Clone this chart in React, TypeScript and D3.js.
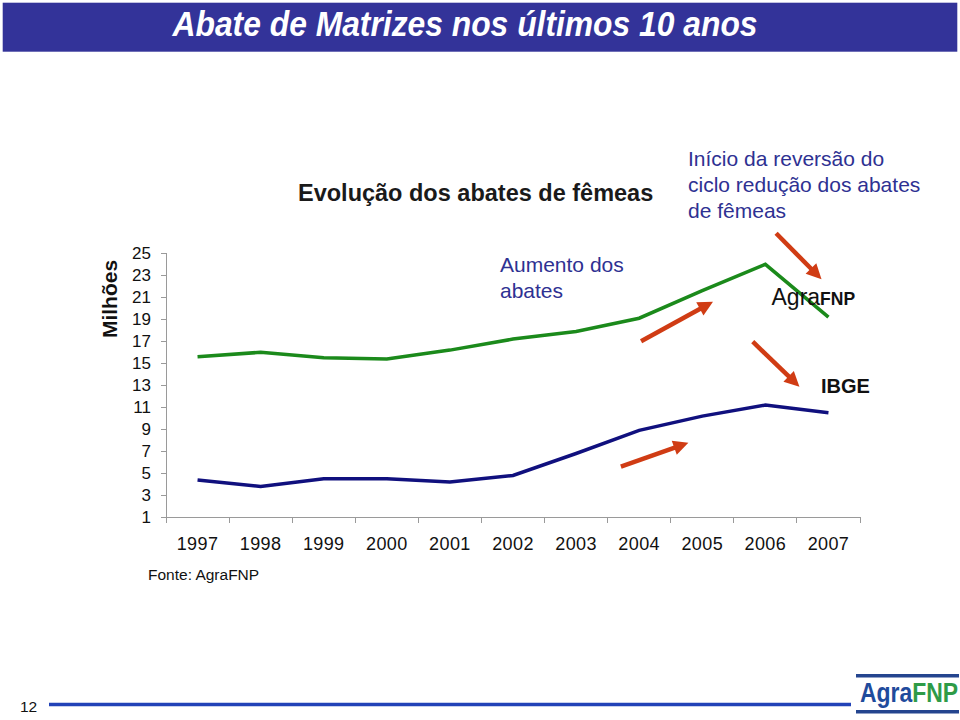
import React from "react";
import * as d3 from "d3";

const years = ["1997", "1998", "1999", "2000", "2001", "2002", "2003", "2004", "2005", "2006", "2007"];
const agraFNP = [15.6, 16.0, 15.5, 15.4, 16.2, 17.2, 17.9, 19.1, 21.6, 24.0, 19.2];
const ibge = [4.4, 3.8, 4.5, 4.5, 4.2, 4.8, 6.8, 8.9, 10.2, 11.2, 10.5];
const yTicks = [1, 3, 5, 7, 9, 11, 13, 15, 17, 19, 21, 23, 25];
// arrows in data space: [fromIndex, fromValue, toIndex, toValue]
const arrows = [
  [9.17, 26.82, 9.89, 22.64],
  [7.03, 17.0, 8.17, 20.6],
  [6.71, 5.6, 7.78, 7.78],
  [8.8, 16.96, 9.54, 12.87],
];

const W = 960;
const H = 720;
const X0 = 166;
const X1 = 860;
const Y0 = 517.3;
const Y1 = 253.3;

const GREEN = "#1B8A1B";
const NAVY = "#10107E";
const ARROW = "#D03C14";
const NOTE = "#2E3192";
const AXIS = "#9a9a9a";
const NARROW = "'Liberation Sans Narrow', 'Arial Narrow', 'Liberation Sans', sans-serif";

export default function App() {
  const xBand = d3.scaleBand<string>().domain(years).range([X0, X1]).padding(0);
  const xIdx = d3.scaleLinear().domain([-0.5, years.length - 0.5]).range([X0, X1]);
  const y = d3.scaleLinear().domain([1, 25]).range([Y0, Y1]);
  const line = d3
    .line<number>()
    .x((_, i) => xIdx(i))
    .y((d) => y(d));

  const bounds = [...years.map((yr) => xBand(yr) as number), X1];

  return (
    <svg
      width={W}
      height={H}
      viewBox={`0 0 ${W} ${H}`}
      style={{ position: "absolute", left: 0, top: 0, display: "block", background: "#fff" }}
      fontFamily="'Liberation Sans', Arial, sans-serif"
    >
      {/* title bar */}
      <rect x={2.7} y={2.7} width={954.6} height={49} fill="#333399" />
      <text
        x={465}
        y={36}
        textAnchor="middle"
        fill="#fff"
        fontSize={35}
        fontWeight="bold"
        fontStyle="italic"
        fontFamily={NARROW}
        textLength={585}
        lengthAdjust="spacingAndGlyphs"
      >
        Abate de Matrizes nos últimos 10 anos
      </text>

      {/* subtitle */}
      <text x={298} y={201} fontSize={23.5} fontWeight="bold" fill="#1a1a1a">
        Evolução dos abates de fêmeas
      </text>

      {/* top-right note */}
      <g fill={NOTE} fontSize={21}>
        <text x={688} y={166}>Início da reversão do</text>
        <text x={688} y={192}>ciclo redução dos abates</text>
        <text x={688} y={218}>de fêmeas</text>
      </g>

      {/* Aumento dos abates */}
      <g fill={NOTE} fontSize={21}>
        <text x={500} y={272}>Aumento dos</text>
        <text x={500} y={298}>abates</text>
      </g>

      {/* y-axis label */}
      <text
        transform={`translate(116.5,299) rotate(-90)`}
        textAnchor="middle"
        fontSize={21}
        fontWeight="bold"
        fill="#111"
      >
        Milhões
      </text>

      {/* axes */}
      <g stroke={AXIS} strokeWidth={1} shapeRendering="crispEdges">
        <line x1={X0} x2={X0} y1={Y1} y2={Y0} />
        <line x1={X0} x2={X1} y1={Y0} y2={Y0} />
        {yTicks.map((t) => (
          <line key={t} x1={X0 - 5} x2={X0} y1={y(t)} y2={y(t)} />
        ))}
        {bounds.map((b, i) => (
          <line key={i} x1={b} x2={b} y1={Y0} y2={Y0 + 6} />
        ))}
      </g>
      <g fontSize={17} fill="#111" textAnchor="end">
        {yTicks.map((t) => (
          <text key={t} x={151} y={y(t) + 6}>
            {t}
          </text>
        ))}
      </g>
      <g fontSize={18} fill="#111" textAnchor="middle" letterSpacing={0.4}>
        {years.map((yr) => (
          <text key={yr} x={(xBand(yr) as number) + xBand.bandwidth() / 2} y={550}>
            {yr}
          </text>
        ))}
      </g>

      {/* series */}
      <path d={line(agraFNP) || ""} fill="none" stroke={GREEN} strokeWidth={3.5} strokeLinejoin="miter" />
      <path d={line(ibge) || ""} fill="none" stroke={NAVY} strokeWidth={3.5} strokeLinejoin="miter" />

      {/* arrows */}
      {arrows.map((a, i) => {
        const x1 = xIdx(a[0]);
        const y1 = y(a[1]);
        const x2 = xIdx(a[2]);
        const y2 = y(a[3]);
        const ang = Math.atan2(y2 - y1, x2 - x1);
        const hl = 15;
        const hw = 7.5;
        const bx = x2 - hl * Math.cos(ang);
        const by = y2 - hl * Math.sin(ang);
        const px = -Math.sin(ang);
        const py = Math.cos(ang);
        const pts = `${x2},${y2} ${bx + px * hw},${by + py * hw} ${bx - px * hw},${by - py * hw}`;
        return (
          <g key={i}>
            <line x1={x1} y1={y1} x2={bx + 2 * Math.cos(ang)} y2={by + 2 * Math.sin(ang)} stroke={ARROW} strokeWidth={4.5} />
            <polygon points={pts} fill={ARROW} />
          </g>
        );
      })}

      {/* series labels */}
      <text x={771.5} y={305} fill="#111">
        <tspan fontSize={23}>Agra</tspan>
        <tspan fontSize={17.5} fontWeight="bold">FNP</tspan>
      </text>
      <text x={821} y={393.3} fontSize={20} fontWeight="bold" fill="#111">
        IBGE
      </text>

      {/* source */}
      <text x={148} y={580} fontSize={15.5} fill="#111">
        Fonte: AgraFNP
      </text>

      {/* footer */}
      <text x={20} y={711.5} fontSize={15.5} fill="#111" fontFamily={NARROW}>
        12
      </text>
      <line x1={49} x2={851} y1={704.4} y2={704.4} stroke="#2243B8" strokeWidth={3.5} />
      <rect x={856} y={674} width={103} height={3.5} fill="#24458F" />
      <rect x={856} y={710} width={103} height={3.5} fill="#24458F" />
      <g transform="translate(860,702) scale(0.85,1)">
        <text x={0} y={0} fontSize={27} fontWeight="bold" fontFamily="'Liberation Sans', Arial, sans-serif">
          <tspan fill="#1F4B9C">Agra</tspan>
          <tspan fill="#2E9B47">FNP</tspan>
        </text>
      </g>
    </svg>
  );
}
